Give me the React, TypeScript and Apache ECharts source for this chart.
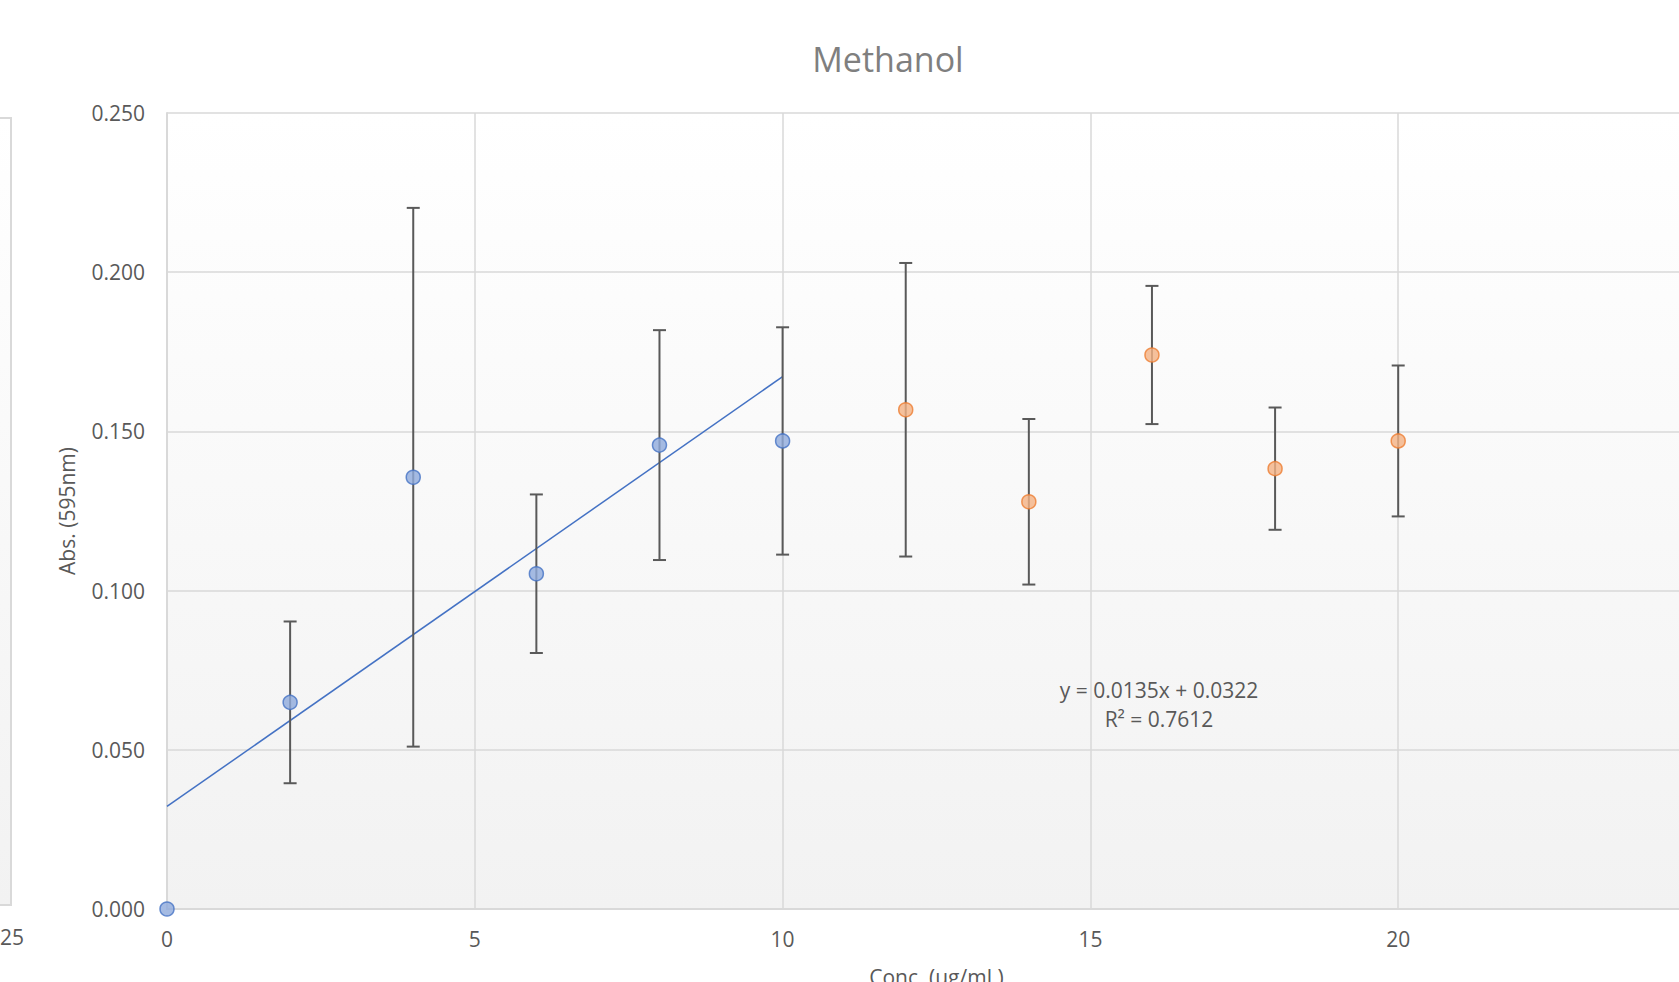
import React, { useEffect, useRef } from "react";
import * as echarts from "echarts";

// Data
const concBlue = [0, 2, 4, 6, 8, 10];
const absBlue = [0.0, 0.0649, 0.1356, 0.1053, 0.1457, 0.147];
const errBlue = [0, 0.0254, 0.0846, 0.0249, 0.0361, 0.0357];

const concOrange = [12, 14, 16, 18, 20];
const absOrange = [0.1568, 0.1279, 0.174, 0.1383, 0.147];
const errOrange = [0.0461, 0.026, 0.0217, 0.0192, 0.0237];

const trendSlope = 0.0135;
const trendIntercept = 0.0322;
const trendRange = [0, 10];
const trendEquation = "y = 0.0135x + 0.0322";
const trendR2 = "R² = 0.7612";

const yTicks = [0, 0.05, 0.1, 0.15, 0.2, 0.25];
const xTicks = [0, 5, 10, 15, 20, 25];

const FONT = "'Open Sans', sans-serif";

export default function App() {
  const ref = useRef<HTMLDivElement>(null);

  useEffect(() => {
    document.body.style.margin = "0";
    if (!ref.current) return;
    const chart = echarts.init(ref.current, undefined, { renderer: "svg" });

    const blue = concBlue.map((x, i) => [x, absBlue[i]]);
    const orange = concOrange.map((x, i) => [x, absOrange[i]]);
    const errData = [
      ...concBlue.map((x, i) => [x, absBlue[i] - errBlue[i], absBlue[i] + errBlue[i]]),
      ...concOrange.map((x, i) => [x, absOrange[i] - errOrange[i], absOrange[i] + errOrange[i]]),
    ].filter((d) => d[2] - d[1] > 0);
    const trend = trendRange.map((x) => [x, trendSlope * x + trendIntercept]);

    chart.setOption({
      animation: false,
      backgroundColor: "#ffffff",
      title: {
        text: "Methanol",
        left: 883,
        top: 37,
        textAlign: "center",
        textStyle: { fontFamily: FONT, fontSize: 34, fontWeight: "normal", color: "#7f7f7f" },
      },
      grid: {
        left: 167,
        top: 113,
        width: 1539,
        height: 796,
        outerBoundsMode: "none",
        containLabel: false,
        show: true,
        borderWidth: 0,
        backgroundColor: new echarts.graphic.LinearGradient(0, 0, 0, 1, [
          { offset: 0, color: "#ffffff" },
          { offset: 1, color: "#f2f2f2" },
        ]),
      },
      xAxis: {
        type: "value",
        min: xTicks[0],
        max: xTicks[xTicks.length - 1],
        interval: 5,
        name: "Conc. (ug/mL)",
        nameLocation: "middle",
        nameGap: 57,
        nameTextStyle: { fontFamily: FONT, fontSize: 21, color: "#595959" },
        axisLine: { show: true, lineStyle: { color: "#d9d9d9", width: 2 } },
        axisTick: { show: false },
        axisLabel: { fontFamily: FONT, fontSize: 21, color: "#595959", margin: 19, showMaxLabel: false },
        splitLine: { show: true, lineStyle: { color: "#d9d9d9", width: 1.5 } },
      },
      yAxis: {
        type: "value",
        min: yTicks[0],
        max: yTicks[yTicks.length - 1],
        interval: 0.05,
        name: "Abs. (595nm)",
        nameLocation: "middle",
        nameGap: 90,
        nameTextStyle: { fontFamily: FONT, fontSize: 21, color: "#595959" },
        axisLine: { show: true, lineStyle: { color: "#d9d9d9", width: 2 } },
        axisTick: { show: false },
        axisLabel: {
          fontFamily: FONT,
          fontSize: 21,
          color: "#595959",
          margin: 22,
          formatter: (v: number) => v.toFixed(3),
        },
        splitLine: { show: true, lineStyle: { color: "#d9d9d9", width: 1.5 } },
      },
      graphic: [
        {
          type: "rect",
          shape: { x: -20, y: 118, width: 31, height: 787 },
          style: {
            fill: new echarts.graphic.LinearGradient(0, 0, 0, 1, [
              { offset: 0, color: "#ffffff" },
              { offset: 1, color: "#f2f2f2" },
            ]),
            stroke: "#d9d9d9",
            lineWidth: 2,
          },
          silent: true,
        },
        {
          type: "text",
          x: 0,
          y: 926,
          style: { text: "25", font: `21px ${FONT}`, fill: "#595959" },
          silent: true,
        },
        {
          type: "text",
          x: 1159,
          y: 675,
          style: {
            text: trendEquation + "\n" + trendR2,
            font: `21px ${FONT}`,
            fill: "#595959",
            align: "center",
            lineHeight: 29,
          },
          silent: true,
        },
      ],
      series: [
        {
          type: "line",
          data: trend,
          symbol: "none",
          lineStyle: { color: "#4472c4", width: 1.5 },
          z: 3,
        },
        {
          type: "custom",
          data: errData,
          z: 4,
          renderItem: (params: any, api: any) => {
            const x = api.value(0);
            const lo = api.coord([x, api.value(1)]);
            const hi = api.coord([x, api.value(2)]);
            const cap = 6.5;
            const style = { stroke: "#595959", lineWidth: 2 };
            return {
              type: "group",
              children: [
                { type: "line", shape: { x1: lo[0], y1: lo[1], x2: hi[0], y2: hi[1] }, style },
                { type: "line", shape: { x1: lo[0] - cap, y1: lo[1], x2: lo[0] + cap, y2: lo[1] }, style },
                { type: "line", shape: { x1: hi[0] - cap, y1: hi[1], x2: hi[0] + cap, y2: hi[1] }, style },
              ],
            };
          },
        },
        {
          type: "scatter",
          data: blue,
          symbol: "circle",
          symbolSize: 14,
          itemStyle: { color: "#8faadc", borderColor: "#4472c4", borderWidth: 1.5 },
          z: 5,
        },
        {
          type: "scatter",
          data: orange,
          symbol: "circle",
          symbolSize: 14,
          itemStyle: { color: "#f4b183", borderColor: "#ed7d31", borderWidth: 1.5 },
          z: 5,
        },
      ],
    });

    return () => chart.dispose();
  }, []);

  return <div ref={ref} style={{ width: 1679, height: 982, position: "absolute", left: 0, top: 0 }} />;
}
